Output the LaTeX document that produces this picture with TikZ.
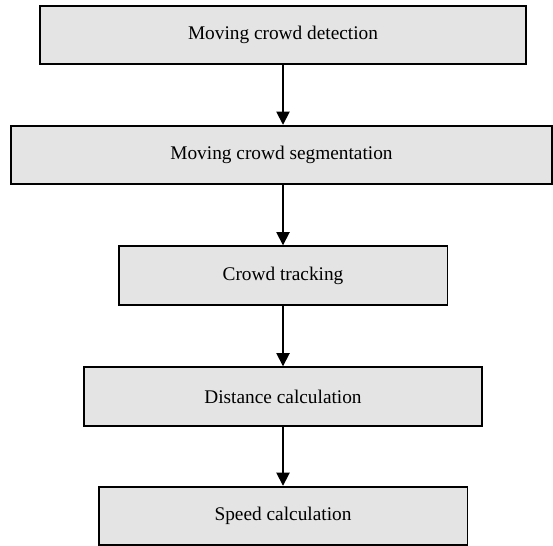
\documentclass[tikz,border=0pt]{standalone}
\usepackage{fontspec}
\setmainfont{Liberation Serif}
\usetikzlibrary{arrows.meta,positioning}
\definecolor{boxgray}{RGB}{228,228,228}

\begin{document}
\begin{tikzpicture}[x=0.02cm,y=-0.02cm,
every node/.style={rectangle,draw=black,fill=boxgray,line width=1.1pt,
  minimum height=1.17cm,inner sep=0pt,font=\fontsize{11}{13}\selectfont},
flowarrow/.style={-{Triangle[length=7.5pt,width=7.5pt]},line width=1pt}]
\useasboundingbox (0,0) rectangle (553,546);
\node[minimum width=9.72cm] (detect) at (283,35) {Moving crowd detection};
\node[minimum width=10.84cm] (segment) at (281.5,155) {Moving crowd segmentation};
\node[minimum width=6.58cm] (track) at (283,275.5) {Crowd tracking};
\node[minimum width=7.96cm] (dist) at (283,396.5) {Distance calculation};
\node[minimum width=7.38cm] (speed) at (283,516) {Speed calculation};
\draw[flowarrow] (detect.south)--(detect.south |- segment.north);
\draw[flowarrow] (track.north |- segment.south)--(track.north);
\draw[flowarrow] (track.south)--(track.south |- dist.north);
\draw[flowarrow] (dist.south)--(dist.south |- speed.north);
\end{tikzpicture}
\end{document}
